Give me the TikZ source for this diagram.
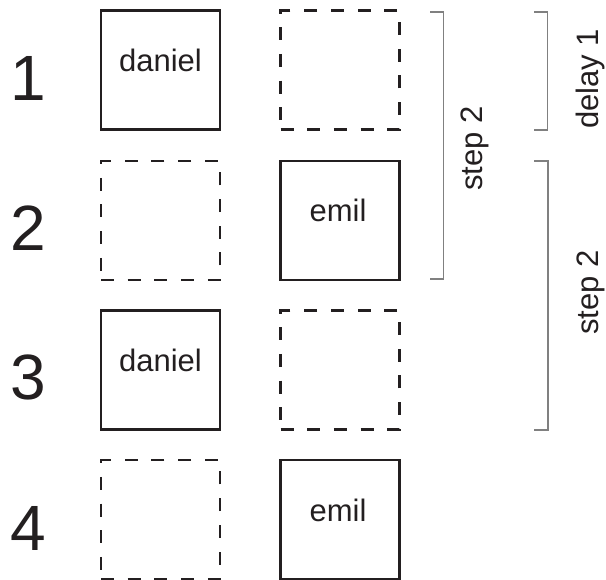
\documentclass[tikz,border=0pt]{standalone}
\usepackage{fontspec}
\setmainfont{Liberation Sans}
\definecolor{inkc}{HTML}{231F20}
\definecolor{spanc}{HTML}{808080}
\begin{document}
\begin{tikzpicture}[x=1pt,y=-1pt,
  slot/.style={draw=inkc,line width=2.3pt,minimum size=119pt,inner sep=0pt,outer sep=0pt},
  slotfull/.style={slot},
  slotempty/.style={slot,dash pattern=on 13pt off 13.7pt},
  nametext/.style={text=inkc,font=\fontsize{31}{37}\selectfont,anchor=base,inner sep=0pt},
  rownum/.style={text=inkc,font=\fontsize{64}{76}\selectfont,anchor=base,inner sep=0pt},
  spanline/.style={draw=spanc,line width=1.4pt},
  spanlabel/.style={text=inkc,font=\fontsize{31}{37}\selectfont,rotate=90,anchor=base,inner sep=0pt}]
\useasboundingbox (0,0) rectangle (606,580);

% row numbers
\node[rownum] (n1) at (28,101) {1};
\node[rownum] (n2) at (28,251) {2};
\node[rownum] (n3) at (28,400) {3};
\node[rownum] (n4) at (28,550) {4};

% left column
\node[slotfull]  (a1) at (160.5,70) {};
\node[slotempty] (a2) at (160.5,220.5) {};
\node[slotfull]  (a3) at (160.5,370) {};
\node[slotempty] (a4) at (160.5,519.5) {};

% right column
\node[slotempty] (b1) at (340,70) {};
\node[slotfull]  (b2) at (340,220.5) {};
\node[slotempty] (b3) at (340,370) {};
\node[slotfull]  (b4) at (340,519.5) {};

% names inside the boxes
\node[nametext] (t1) at (160.5,72) {daniel};
\node[nametext] (t2) at (338,222) {emil};
\node[nametext] (t3) at (160.5,372) {daniel};
\node[nametext] (t4) at (338,521) {emil};

% bracket: step 2 (rows 1-2)
\coordinate (s1a) at (430,12);
\coordinate (s1b) at (443.5,12);
\coordinate (s1c) at (443.5,279);
\coordinate (s1d) at (430,279);
\draw[spanline] (s1a) -- (s1b) -- (s1c) -- (s1d);
\node[spanlabel] (l1) at (482,148.5) {step 2};

% bracket: delay 1
\coordinate (d1a) at (534,12);
\coordinate (d1b) at (547.5,12);
\coordinate (d1c) at (547.5,130);
\coordinate (d1d) at (534,130);
\draw[spanline] (d1a) -- (d1b) -- (d1c) -- (d1d);
\node[spanlabel] (l2) at (598.5,79) {delay 1};

% bracket: step 2 (rows 2-3)
\coordinate (s2a) at (534,161);
\coordinate (s2b) at (548,161);
\coordinate (s2c) at (548,430);
\coordinate (s2d) at (534,430);
\draw[spanline] (s2a) -- (s2b) -- (s2c) -- (s2d);
\node[spanlabel] (l3) at (598.5,292.5) {step 2};
\end{tikzpicture}
\end{document}
